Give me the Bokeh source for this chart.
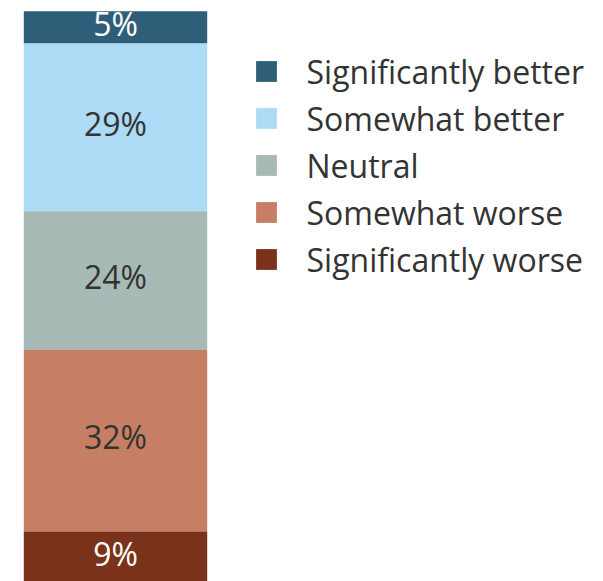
from bokeh.plotting import figure
from bokeh.models import ColumnDataSource, Range1d, Legend, LegendItem
from bokeh.core.properties import value
from bokeh.embed import file_html
from bokeh.resources import INLINE

categories = ["Significantly better", "Somewhat better", "Neutral", "Somewhat worse", "Significantly worse"]
shares = [5.6, 29.2, 24.1, 31.6, 9.0]
share_labels = ["5%", "29%", "24%", "32%", "9%"]
colors = ["#2F5E79", "#ADDAF4", "#A7BAB5", "#C67F64", "#7B321B"]
label_colors = ["#FFFFFF", "#333333", "#333333", "#333333", "#FFFFFF"]

# stack from the bottom (last category at bottom)
tops, bottoms = [], []
acc = 0.0
for v in reversed(shares):
    bottoms.append(acc)
    acc += v
    tops.append(acc)
tops = tops[::-1]
bottoms = bottoms[::-1]
mids = [(t + b) / 2 for t, b in zip(tops, bottoms)]

src = ColumnDataSource(dict(
    x=[0] * len(categories), top=tops, bottom=bottoms, color=colors,
    cat=categories, mid=mids, lab=share_labels, lcol=label_colors,
))

W, H = 595, 581
p = figure(width=W, height=H, output_backend="svg", toolbar_location=None,
           x_range=Range1d(-0.627, 2.617), y_range=Range1d(0.32, 101.36),
           min_border=0)
p.axis.visible = False
p.grid.visible = False
p.outline_line_color = None
p.background_fill_color = "white"

r = p.vbar(x="x", width=1, top="top", bottom="bottom", fill_color="color",
           line_color=None, source=src)
p.text(x="x", y="mid", text="lab", text_color="lcol", text_align="center",
       text_baseline="middle", text_font=value("Open Sans"),
       text_font_size="32px", y_offset=-4, source=src)

items = [LegendItem(label=c, renderers=[r], index=i) for i, c in enumerate(categories)]
leg = Legend(items=items, location=(252.5, 300.5), border_line_color=None,
             background_fill_alpha=0, padding=0, margin=0,
             glyph_width=26, glyph_height=26, label_standoff=28, spacing=4,
             label_text_font="Open Sans", label_text_font_size="32px",
             label_text_color="#333333")
p.add_layout(leg)

open("out.html", "w").write(file_html(p, INLINE))
